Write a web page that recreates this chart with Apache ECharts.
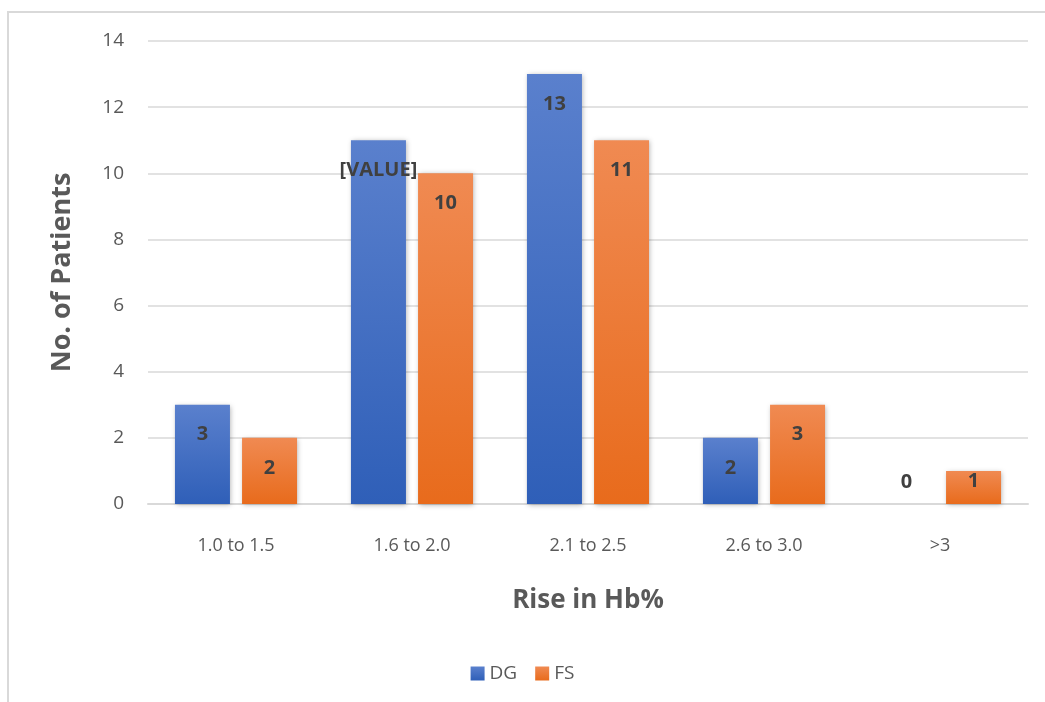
<!DOCTYPE html>
<html>
<head>
<meta charset="utf-8">
<script src="https://cdn.jsdelivr.net/npm/echarts@6/dist/echarts.min.js"></script>
<style>
  html, body { margin: 0; padding: 0; background: #fff; }
  #frame { position: absolute; left: 7px; top: 11px; width: 1045px; height: 700px;
           border-left: 2px solid #d9d9d9; border-top: 2px solid #d9d9d9; }
  #chart { position: absolute; left: 0; top: 0; width: 1045px; height: 702px; }
</style>
</head>
<body>
<div id="frame"></div>
<div id="chart"></div>
<script>
const categories = ['1.0 to 1.5', '1.6 to 2.0', '2.1 to 2.5', '2.6 to 3.0', '>3'];
const dgValues = [3, 11, 13, 2, 0];
const fsValues = [2, 10, 11, 3, 1];
const yTicks = [0, 2, 4, 6, 8, 10, 12, 14];

const labelBase = {
  show: true,
  position: 'insideTop',
  distance: 20,
  color: '#404040',
  fontWeight: 'bold',
  fontSize: 20,
  fontFamily: 'Open Sans'
};

function grad(top, bottom) {
  return new echarts.graphic.LinearGradient(0, 0, 0, 1, [
    { offset: 0, color: top },
    { offset: 1, color: bottom }
  ]);
}

// some labels sit differently in the original
const dgData = dgValues.map((v, i) => {
  if (i === 1) return { value: v, label: { formatter: '[VALUE]' } };
  if (v === 0) return { value: v, label: { position: 'top', distance: 12 } };
  return v;
});
const fsData = fsValues.map((v, i) => {
  if (i === 4) return { value: v, label: { distance: 0 } };
  return v;
});

const chart = echarts.init(document.getElementById('chart'), null, { renderer: 'canvas' });

chart.setOption({
  animation: false,
  grid: { left: 148, right: 17, top: 41, bottom: 198 },
  legend: {
    bottom: 14,
    left: 'center',
    itemWidth: 14,
    itemHeight: 14,
    itemGap: 18,
    icon: 'rect',
    textStyle: { color: '#595959', fontSize: 19, fontFamily: 'Open Sans' },
    data: ['DG', 'FS']
  },
  xAxis: {
    type: 'category',
    data: categories,
    name: 'Rise in Hb%',
    nameLocation: 'middle',
    nameGap: 84,
    nameTextStyle: { color: '#595959', fontSize: 26, fontWeight: 'bold', fontFamily: 'Open Sans' },
    axisLine: { lineStyle: { color: '#d9d9d9', width: 2 } },
    axisTick: { show: false },
    axisLabel: { color: '#595959', fontSize: 18, margin: 33, fontFamily: 'Open Sans' }
  },
  yAxis: {
    type: 'value',
    min: yTicks[0],
    max: yTicks[yTicks.length - 1],
    interval: 2,
    name: 'No. of Patients',
    nameLocation: 'middle',
    nameRotate: 90,
    nameGap: 72,
    nameTextStyle: { color: '#595959', fontSize: 27, fontWeight: 'bold', fontFamily: 'Open Sans' },
    axisLine: { show: false },
    axisTick: { show: false },
    axisLabel: { color: '#595959', fontSize: 19, margin: 24, fontFamily: 'Open Sans' },
    splitLine: { lineStyle: { color: '#d9d9d9', width: 1.5 } }
  },
  series: [
    {
      name: 'DG',
      type: 'bar',
      data: dgData,
      barWidth: 55,
      barGap: '22%',
      itemStyle: {
        color: grad('#5a80cd', '#2f5fb8'),
        shadowBlur: 5,
        shadowColor: 'rgba(0,0,0,0.3)',
        shadowOffsetX: 1,
        shadowOffsetY: 1
      },
      label: labelBase
    },
    {
      name: 'FS',
      type: 'bar',
      data: fsData,
      barWidth: 55,
      itemStyle: {
        color: grad('#f08a52', '#e86b1c'),
        shadowBlur: 5,
        shadowColor: 'rgba(0,0,0,0.3)',
        shadowOffsetX: 1,
        shadowOffsetY: 1
      },
      label: labelBase
    }
  ]
});
</script>
</body>
</html>
